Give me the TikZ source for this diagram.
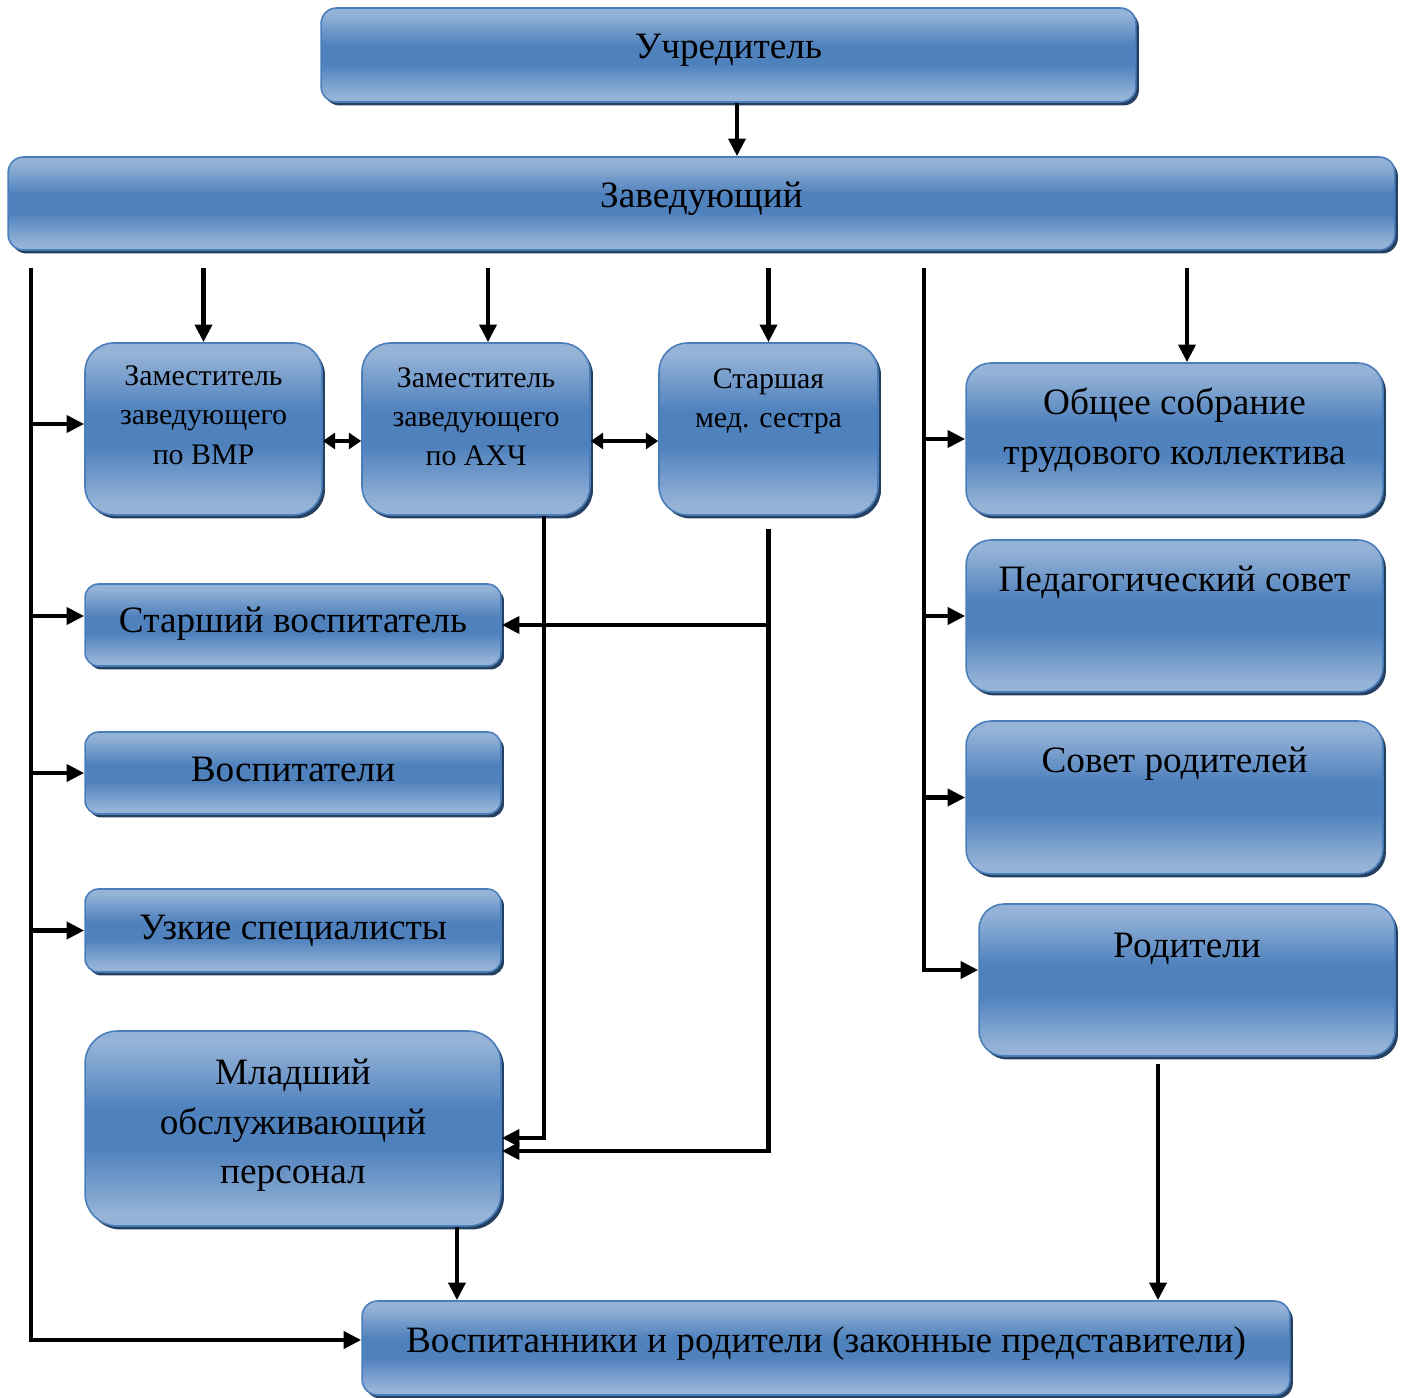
\documentclass[tikz,border=0pt]{standalone}
\usepackage{fontspec}
\setmainfont{Liberation Serif}
\usepackage{tikz}
\usetikzlibrary{arrows.meta,shadows}

\definecolor{lightb}{RGB}{149,179,215}
\definecolor{midb}{RGB}{79,129,189}
\definecolor{bordc}{RGB}{74,126,187}
\definecolor{shadc}{RGB}{37,64,97}
\pgfdeclareverticalshading{wordblue}{100bp}{color(0bp)=(lightb); color(28bp)=(lightb); color(45bp)=(midb); color(55bp)=(midb); color(72bp)=(lightb); color(100bp)=(lightb)}

\tikzset{
  blk/.style={draw=bordc, line width=0.9pt, shade, shading=wordblue,
    rounded corners=#1, align=center, inner sep=0pt,
    drop shadow={shadow xshift=0.06cm, shadow yshift=-0.07cm, fill=shadc, opacity=1}},
  blk/.default=0.31cm,
  big/.style={font=\fontsize{21.2}{28.3}\selectfont},
  small/.style={font=\fontsize{17}{22.4}\selectfont},
  conn/.style={line width=2.5pt},
  arr/.style={conn, -{Triangle[length=10pt,width=9.5pt]}},
  dbl/.style={conn, {Triangle[length=7pt,width=9pt]}-{Triangle[length=7pt,width=9pt]}},
}

\begin{document}
\begin{tikzpicture}[x=0.02cm, y=-0.02cm]
\useasboundingbox (0,0) rectangle (1406,1398);

% top
\node[blk, big, text depth=10.2pt, minimum width=16.3cm, minimum height=1.88cm] (uch) at (728.5,55) {Учредитель};
\node[blk, big, text depth=10.2pt, minimum width=27.74cm, minimum height=1.86cm] (zav) at (701.5,203.5) {Заведующий};

% deputies
\node[blk=0.57cm, small, text depth=16pt, minimum width=4.74cm, minimum height=3.44cm] (vmr) at (203.5,429) {Заместитель\\заведующего\\по ВМР};
\node[blk=0.57cm, small, text depth=14pt, minimum width=4.56cm, minimum height=3.44cm] (ahch) at (476,429) {Заместитель\\заведующего\\по АХЧ};
\node[blk=0.57cm, small, text depth=12.4pt, minimum width=4.38cm, minimum height=3.44cm] (med) at (768.5,429) {Старшая\\мед. сестра\\\mbox{}};

% right column
\node[blk=0.5cm, big, text depth=14.8pt, minimum width=8.34cm, minimum height=3.04cm] (sobr) at (1174.5,439) {Общее собрание\\трудового коллектива};
\node[blk=0.5cm, big, text depth=13.6pt, minimum width=8.34cm, minimum height=3.04cm] (ped) at (1174.5,616) {Педагогический совет\\\mbox{}};
\node[blk=0.5cm, big, text depth=14.7pt, minimum width=8.34cm, minimum height=3.06cm] (sovr) at (1174.5,797.5) {Совет родителей\\\mbox{}};
\node[blk=0.5cm, big, text depth=11.3pt, minimum width=8.32cm, minimum height=3.04cm] (rod) at (1187,980) {Родители\\\mbox{}};

% left column
\node[blk=0.27cm, big, text depth=5.7pt, minimum width=8.32cm, minimum height=1.64cm] (stv) at (293,625) {Старший воспитатель};
\node[blk=0.27cm, big, text depth=4.5pt, minimum width=8.32cm, minimum height=1.64cm] (vosp) at (293,773) {Воспитатели};
\node[blk=0.27cm, big, text depth=4pt, minimum width=8.32cm, minimum height=1.66cm] (uzk) at (293,930.5) {Узкие специалисты};
\node[blk=0.65cm, big, text depth=8pt, minimum width=8.32cm, minimum height=3.9cm] (mop) at (293,1128.5) {Младший\\обслуживающий\\персонал};

% bottom
\node[blk, big, text depth=9.6pt, minimum width=18.56cm, minimum height=1.88cm] (vr) at (826,1348) {Воспитанники и родители (законные представители)};

% helper points
\coordinate (zl) at (31,268);
\coordinate (zr) at (924,268);
\coordinate (uchout) at ([xshift=0.17cm]uch.south);
\coordinate (ahchin) at ([xshift=0.24cm]ahch.north);
\coordinate (sobrin) at ([xshift=0.25cm]sobr.north);
\coordinate (ahchout) at ([xshift=1.36cm]ahch.south);
\coordinate (medout) at ([yshift=-0.26cm]med.south);
\coordinate (mopout) at ([xshift=3.28cm]mop.south);
\coordinate (rodout) at ([xshift=-0.58cm,yshift=-0.14cm]rod.south);
\coordinate (vmrin) at ([yshift=0.1cm]vmr.west);
\coordinate (stvin) at ([yshift=0.18cm]stv.west);
\coordinate (vrin) at ([yshift=0.16cm]vr.west);
\coordinate (rodin) at ([yshift=0.2cm]rod.west);

\draw[arr] (uchout) -- (uchout |- zav.north);
\draw[arr] (vmr.north |- zl) -- (vmr.north);
\draw[arr] (ahchin |- zl) -- (ahchin);
\draw[arr] (med.north |- zl) -- (med.north);
\draw[arr] (sobrin |- zl) -- (sobrin);

% left trunk
\draw[arr] (zl) |- (vrin);
\draw[arr] (zl |- vmrin) -- (vmrin);
\draw[arr] (zl |- stvin) -- (stvin);
\draw[arr] (zl |- vosp.west) -- (vosp.west);
\draw[arr] (zl |- uzk.west) -- (uzk.west);

% right trunk
\draw[arr] (zr) |- (rodin);
\draw[arr] (zr |- sobr.west) -- (sobr.west);
\draw[arr] (zr |- ped.west) -- (ped.west);
\draw[arr] (zr |- sovr.west) -- (sovr.west);

% between deputies
\draw[dbl] ([yshift=-0.24cm]vmr.east) -- ([yshift=-0.24cm]ahch.west);
\draw[dbl] ([yshift=-0.24cm]ahch.east) -- ([yshift=-0.24cm]med.west);

% down to staff
\draw[arr] (ahchout) |- ([yshift=-0.19cm]mop.east);
\draw[arr] (medout) |- ([yshift=-0.45cm]mop.east);
\draw[arr] (medout |- stv.east) -- (stv.east);

% to pupils
\draw[arr] (mopout) -- (mopout |- vr.north);
\draw[arr] (rodout) -- (rodout |- vr.north);
\end{tikzpicture}
\end{document}
